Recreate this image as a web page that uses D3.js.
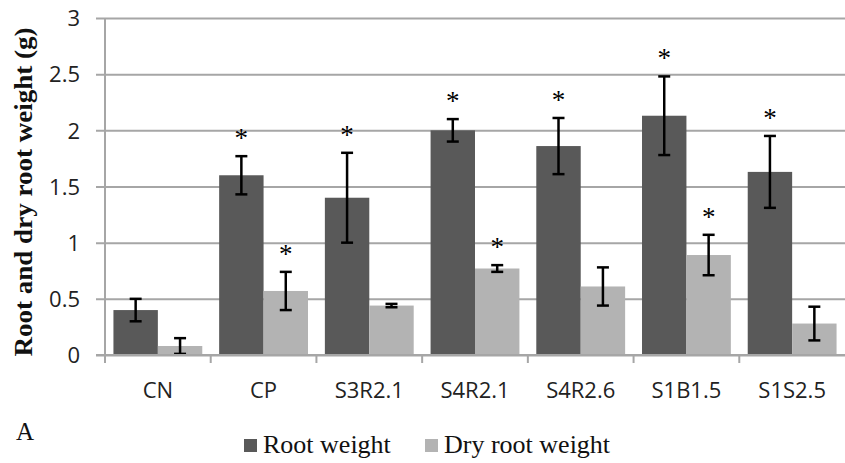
<!DOCTYPE html>
<html>
<head>
<meta charset="utf-8">
<script src="https://cdn.jsdelivr.net/npm/d3@7"></script>
<style>
  body { margin: 0; background: #fff; }
  svg { display: block; }
</style>
</head>
<body>
<div class="chart"></div>
<script>
var categories = ["CN", "CP", "S3R2.1", "S4R2.1", "S4R2.6", "S1B1.5", "S1S2.5"];
var seriesNames = ["Root weight", "Dry root weight"];
var rootWeight = [0.40, 1.60, 1.40, 2.00, 1.86, 2.13, 1.63];
var rootError = [0.10, 0.17, 0.40, 0.10, 0.25, 0.35, 0.32];
var dryWeight = [0.08, 0.57, 0.44, 0.77, 0.61, 0.89, 0.28];
var dryError = [0.07, 0.17, 0.015, 0.03, 0.17, 0.18, 0.15];
var rootSig = [false, true, true, true, true, true, true];
var drySig = [false, true, false, true, false, true, false];
var yTicks = [0, 0.5, 1, 1.5, 2, 2.5, 3];

var svgWidth = 845, svgHeight = 463;
var colors = ["#595959", "#b3b3b3"];

var svg = d3.select(".chart").append("svg")
    .attr("width", svgWidth)
    .attr("height", svgHeight);

var x0 = d3.scaleBand().domain(categories).range([105, 845]).padding(0);
var x1 = d3.scaleBand().domain(seriesNames).range([0, x0.bandwidth()])
    .paddingInner(0).paddingOuter(0.19);
var y = d3.scaleLinear().domain([0, 3]).range([355, 18]);

// gridlines + y axis
var yAxis = svg.append("g")
    .attr("transform", "translate(105,0)")
    .call(d3.axisLeft(y).tickValues(yTicks).tickSizeInner(-740).tickSizeOuter(0).tickFormat(d3.format("")));
yAxis.select(".domain").remove();
yAxis.selectAll(".tick line")
    .attr("x1", -9)
    .attr("stroke", "#a6a6a6")
    .attr("stroke-width", 2);
yAxis.selectAll(".tick text")
    .attr("x", -25)
    .attr("dy", "0.35em")
    .style("font-family", "'Open Sans', sans-serif")
    .style("font-size", "22px")
    .attr("fill", "#222");

svg.append("line")
    .attr("x1", 105).attr("x2", 105)
    .attr("y1", 18).attr("y2", 355)
    .attr("stroke", "#a6a6a6").attr("stroke-width", 2);

// bars
var rows = categories.map(function(c, i) {
    return [
        { cat: c, key: seriesNames[0], v: rootWeight[i], e: rootError[i], sig: rootSig[i], color: colors[0] },
        { cat: c, key: seriesNames[1], v: dryWeight[i], e: dryError[i], sig: drySig[i], color: colors[1] }
    ];
});

var groups = svg.selectAll(".grp")
    .data(rows)
    .enter().append("g")
    .attr("class", "grp")
    .attr("transform", function(d) { return "translate(" + x0(d[0].cat) + ",0)"; });

groups.selectAll("rect")
    .data(function(d) { return d; })
    .enter().append("rect")
    .attr("x", function(d) { return x1(d.key); })
    .attr("y", function(d) { return y(d.v); })
    .attr("width", x1.bandwidth())
    .attr("height", function(d) { return y(0) - y(d.v); })
    .attr("fill", function(d) { return d.color; });

// x axis line and ticks
svg.append("line")
    .attr("x1", 96).attr("x2", 845)
    .attr("y1", 355).attr("y2", 355)
    .attr("stroke", "#a6a6a6").attr("stroke-width", 2);

svg.selectAll(".xtick")
    .data(categories)
    .enter().append("line")
    .attr("class", "xtick")
    .attr("x1", function(d) { return x0(d); })
    .attr("x2", function(d) { return x0(d); })
    .attr("y1", 355).attr("y2", 363)
    .attr("stroke", "#a6a6a6").attr("stroke-width", 2);

svg.selectAll(".xlabel")
    .data(categories)
    .enter().append("text")
    .attr("class", "xlabel")
    .attr("x", function(d) { return x0(d) + x0.bandwidth() / 2; })
    .attr("y", 398)
    .attr("text-anchor", "middle")
    .style("font-family", "'Open Sans', sans-serif")
    .style("font-size", "22px")
    .attr("fill", "#222")
    .text(function(d) { return d; });

// error bars
var errs = groups.selectAll(".err")
    .data(function(d) { return d; })
    .enter().append("g")
    .attr("class", "err")
    .attr("stroke", "#000")
    .attr("stroke-width", 2.5);

errs.append("line")
    .attr("x1", function(d) { return x1(d.key) + x1.bandwidth() / 2; })
    .attr("x2", function(d) { return x1(d.key) + x1.bandwidth() / 2; })
    .attr("y1", function(d) { return y(d.v + d.e); })
    .attr("y2", function(d) { return y(d.v - d.e); });

[1, -1].forEach(function(s) {
    errs.append("line")
        .attr("x1", function(d) { return x1(d.key) + x1.bandwidth() / 2 - 6; })
        .attr("x2", function(d) { return x1(d.key) + x1.bandwidth() / 2 + 6; })
        .attr("y1", function(d) { return y(d.v + s * d.e); })
        .attr("y2", function(d) { return y(d.v + s * d.e); });
});

// significance stars
groups.selectAll(".star")
    .data(function(d) { return d.filter(function(b) { return b.sig; }); })
    .enter().append("text")
    .attr("class", "star")
    .attr("x", function(d) { return x1(d.key) + x1.bandwidth() / 2; })
    .attr("y", function(d) { return y(d.v + d.e) - 9; })
    .attr("text-anchor", "middle")
    .style("font-family", "'Liberation Serif', serif")
    .style("font-size", "27px")
    .attr("fill", "#000")
    .text("*");

// y axis title
svg.append("text")
    .attr("transform", "translate(32,192) rotate(-90)")
    .attr("text-anchor", "middle")
    .attr("textLength", 329)
    .attr("lengthAdjust", "spacingAndGlyphs")
    .style("font-family", "'Liberation Serif', serif")
    .style("font-weight", "bold")
    .style("font-size", "26px")
    .attr("fill", "#111")
    .text("Root and dry root weight (g)");

// panel letter
svg.append("text")
    .attr("x", 16).attr("y", 440)
    .style("font-family", "'Liberation Serif', serif")
    .style("font-size", "25px")
    .attr("fill", "#111")
    .text("A");

// legend
var legendX = [244, 425];
var legend = svg.selectAll(".legend")
    .data(seriesNames)
    .enter().append("g")
    .attr("class", "legend")
    .attr("transform", function(d, i) { return "translate(" + legendX[i] + ",439)"; });

legend.append("rect")
    .attr("width", 13).attr("height", 13)
    .attr("fill", function(d, i) { return colors[i]; });

legend.append("text")
    .attr("x", 19).attr("y", 14)
    .style("font-family", "'Liberation Serif', serif")
    .style("font-size", "26px")
    .attr("fill", "#111")
    .text(function(d) { return d; });
</script>
</body>
</html>
